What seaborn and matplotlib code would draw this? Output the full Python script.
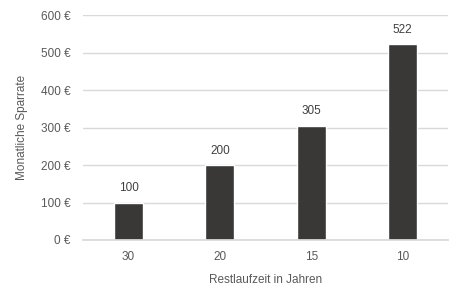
import matplotlib
matplotlib.use("Agg")
import matplotlib.pyplot as plt
import seaborn as sns
import pandas as pd

categories = ["30", "20", "15", "10"]
values = [100, 200, 305, 522]
yticks = [0, 100, 200, 300, 400, 500, 600]
ytick_labels = ["0 €", "100 €", "200 €", "300 €", "400 €", "500 €", "600 €"]

df = pd.DataFrame({"Restlaufzeit": categories, "Rate": values})

sns.set_theme(style="white")
plt.rcParams['font.family'] = ['Liberation Sans', 'DejaVu Sans']
txt = "#595959"

fig = plt.figure(figsize=(4.63, 3.03), dpi=100)
ax = fig.add_axes([0.179, 0.208, 0.789, 0.742])
sns.barplot(data=df, x="Restlaufzeit", y="Rate", order=categories, color="#3a3836",
            width=0.32, saturation=1, ax=ax, zorder=3)
ax.set_xlim(-0.5, 3.5)
ax.set_ylim(0, 600)
ax.set_yticks(yticks)
ax.set_yticklabels(ytick_labels)
ax.grid(axis="y", color="#d9d9d9", linewidth=1, zorder=0)
for s in ["top", "right", "left"]:
    ax.spines[s].set_visible(False)
ax.spines["bottom"].set_color("#d9d9d9")
ax.spines["bottom"].set_zorder(4)
ax.tick_params(axis="both", length=0, colors=txt, labelsize=8.5)
ax.tick_params(axis="y", pad=9)
ax.tick_params(axis="x", pad=8)
ax.set_xlabel("Restlaufzeit in Jahren", color=txt, fontsize=8.5, labelpad=8)
ax.set_ylabel("Monatliche Sparrate", color=txt, fontsize=8.5, labelpad=9)
for c in ax.containers:
    ax.bar_label(c, labels=[str(v) for v in values], padding=6, color="#404040", fontsize=8.5)

fig.savefig("out.png", dpi=100)
